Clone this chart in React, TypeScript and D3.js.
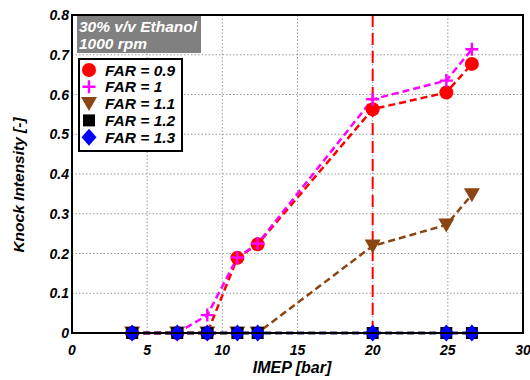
import React from "react";
import * as d3 from "d3";

const imep = [4.0, 7.0, 9.0, 11.0, 12.35, 20.0, 24.9, 26.6];
const far09 = [0, 0, 0, 0.189, 0.223, 0.563, 0.605, 0.677];
const far10 = [0, 0, 0.045, 0.19, 0.225, 0.588, 0.635, 0.714];
const far11 = [0, 0, 0, 0, 0, 0.219, 0.272, 0.348];
const far12 = [0, 0, 0, 0, 0, 0, 0, 0];
const far13 = [0, 0, 0, 0, 0, 0, 0, 0];
const xTicks = [0, 5, 10, 15, 20, 25, 30];
const yTicks = [0, 0.1, 0.2, 0.3, 0.4, 0.5, 0.6, 0.7, 0.8];
const seriesNames = ["FAR = 0.9", "FAR = 1", "FAR = 1.1", "FAR = 1.2", "FAR = 1.3"];
const vLineX = 20;

const W = 530, H = 380;
const L = 72, R = 523, T = 15, B = 333;
const font = "'Liberation Sans', Arial, sans-serif";

type Kind = "circle" | "plus" | "tri" | "square" | "diamond";
const styles: { vals: number[]; color: string; line: string; kind: Kind }[] = [
  { vals: far09, color: "#ff0000", line: "#ff0000", kind: "circle" },
  { vals: far10, color: "#ff00ff", line: "#ff00ff", kind: "plus" },
  { vals: far11, color: "#8b4513", line: "#8b4513", kind: "tri" },
  { vals: far12, color: "#000000", line: "#000000", kind: "square" },
  { vals: far13, color: "#0000ff", line: "#00008b", kind: "diamond" },
];

function Marker({ kind, x, y, color }: { kind: Kind; x: number; y: number; color: string }) {
  switch (kind) {
    case "circle":
      return <circle cx={x} cy={y} r={7} fill={color} />;
    case "plus":
      return (
        <path d={`M${x - 6.5},${y}H${x + 6.5}M${x},${y - 6.5}V${y + 6.5}`} stroke={color} strokeWidth={2.4} fill="none" />
      );
    case "tri":
      return <path d={`M${x - 8},${y - 6.5}L${x + 8},${y - 6.5}L${x},${y + 7.5}Z`} fill={color} />;
    case "square":
      return <rect x={x - 6} y={y - 6} width={12} height={12} fill={color} />;
    case "diamond":
      return <path d={`M${x},${y - 8.5}L${x + 7.5},${y}L${x},${y + 8.5}L${x - 7.5},${y}Z`} fill={color} />;
  }
}

export default function App() {
  const x = d3.scaleLinear().domain([0, 30]).range([L, R]);
  const y = d3.scaleLinear().domain([0, 0.8]).range([B, T]);
  const line = (vals: number[]) =>
    d3.line<number>().x((_, i) => x(imep[i])).y((d) => y(d))(vals) as string;

  return (
    <svg width={W} height={H} style={{ position: "absolute", left: 0, top: 0, background: "#fff" }}>
      <rect width={W} height={H} fill="#fff" />
      {xTicks.slice(1, -1).map((t) => (
        <line key={"gx" + t} x1={x(t)} x2={x(t)} y1={T} y2={B} stroke="#999" strokeDasharray="1.5,2" strokeWidth={1} />
      ))}
      {yTicks.slice(1, -1).map((t) => (
        <line key={"gy" + t} x1={L} x2={R} y1={y(t)} y2={y(t)} stroke="#999" strokeDasharray="1.5,2" strokeWidth={1} />
      ))}
      <line x1={x(vLineX)} x2={x(vLineX)} y1={T} y2={B} stroke="#ff0000" strokeWidth={2} strokeDasharray="12,6" />
      {styles.map((s, i) => (
        <path key={"l" + i} d={line(s.vals)} fill="none" stroke={s.line} strokeWidth={2.5} strokeDasharray="7,4" />
      ))}
      {styles.map((s, i) =>
        s.vals.map((v, j) => <Marker key={`m${i}-${j}`} kind={s.kind} x={x(imep[j])} y={y(v)} color={s.color} />)
      )}
      <rect x={L} y={T} width={R - L} height={B - T} fill="none" stroke="#000" strokeWidth={2} />
      {xTicks.map((t) => (
        <text key={"xt" + t} x={x(t)} y={B + 22} textAnchor="middle" fontFamily={font} fontSize={14} fontWeight="bold" fontStyle="italic">
          {t}
        </text>
      ))}
      {yTicks.map((t) => (
        <text key={"yt" + t} x={L - 3} y={y(t) + 5} textAnchor="end" fontFamily={font} fontSize={14} fontWeight="bold" fontStyle="italic">
          {t === 0 ? "0" : d3.format(".1f")(t)}
        </text>
      ))}
      <text x={292} y={373} textAnchor="middle" fontFamily={font} fontSize={16} fontWeight="bold" fontStyle="italic">
        IMEP [bar]
      </text>
      <text transform={`translate(24,185) rotate(-90)`} textAnchor="middle" fontFamily={font} fontSize={15.5} fontWeight="bold" fontStyle="italic">
        Knock Intensity [-]
      </text>
      <rect x={77} y={16} width={124} height={37} fill="#808080" />
      <text x={79} y={32} fill="#fff" fontFamily={font} fontSize={15.5} fontWeight="bold" fontStyle="italic">
        30% v/v Ethanol
      </text>
      <text x={79} y={49} fill="#fff" fontFamily={font} fontSize={15.5} fontWeight="bold" fontStyle="italic">
        1000 rpm
      </text>
      <rect x={79} y={59} width={103} height={92} fill="#fff" stroke="#000" strokeWidth={2} />
      {styles.map((s, i) => {
        const cy = 70 + i * 16.8;
        return (
          <g key={"lg" + i}>
            <Marker kind={s.kind} x={89} y={cy} color={s.color} />
            <text x={105} y={cy + 5.5} fontFamily={font} fontSize={15.5} fontWeight="bold" fontStyle="italic">
              {seriesNames[i]}
            </text>
          </g>
        );
      })}
    </svg>
  );
}
